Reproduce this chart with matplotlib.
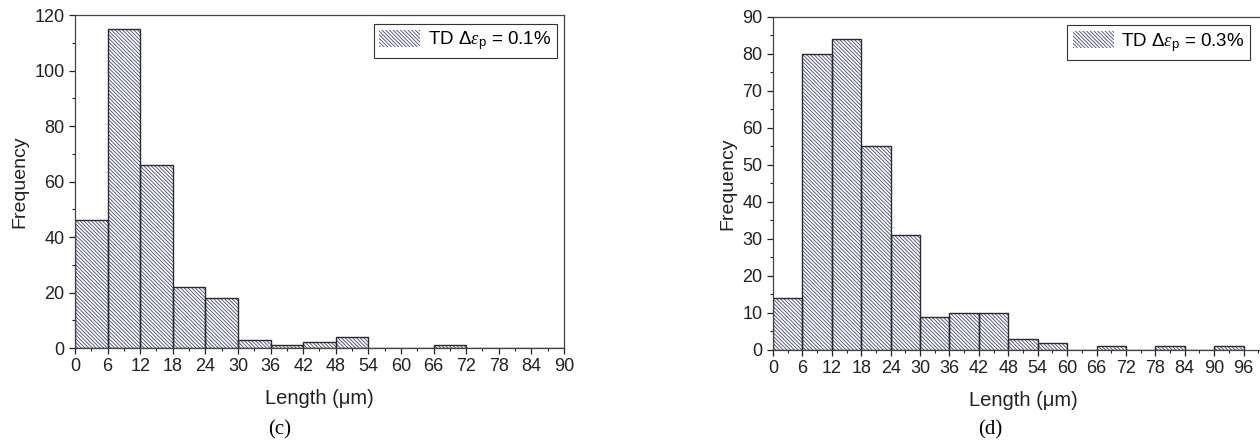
import matplotlib
matplotlib.use('Agg')
import matplotlib.pyplot as plt
import numpy as np

# crack length histograms, 6 um bins
bin_edges_c = list(range(0, 91, 6))
counts_c = [46, 115, 66, 22, 18, 3, 1, 2, 4, 0, 0, 1, 0, 0, 0]
label_c = r'TD $\Delta\varepsilon_{\rm p}$ = 0.1%'

bin_edges_d = list(range(0, 97, 6))
counts_d = [14, 80, 84, 55, 31, 9, 10, 10, 3, 2, 0, 1, 0, 1, 0, 1]
label_d = r'TD $\Delta\varepsilon_{\rm p}$ = 0.3%'

plt.rcParams['font.family'] = ['Liberation Sans', 'DejaVu Sans']
plt.rcParams['mathtext.fontset'] = 'custom'
plt.rcParams['mathtext.rm'] = 'Liberation Sans'
plt.rcParams['mathtext.it'] = 'Liberation Serif:italic'
plt.rcParams['hatch.linewidth'] = 0.6

HATCH_COL = '#45457a'
EDGE_COL = '#2a2a2a'
TEXT_COL = '#222222'


def draw_hist(ax, edges, counts, label):
    left = np.array(edges[:-1])
    width = np.diff(edges)
    # hatched fill first, then the plain outline on top
    ax.bar(left, counts, width=width, align='edge', color='white',
           edgecolor=HATCH_COL, hatch='\\' * 9, linewidth=0, label=label)
    ax.bar(left, counts, width=width, align='edge', fill=False,
           edgecolor=EDGE_COL, linewidth=1.0)
    ax.tick_params(axis='both', direction='out', labelsize=13,
                   colors=TEXT_COL, length=4, width=0.9)
    ax.tick_params(which='minor', direction='out', length=2, width=0.8, colors=TEXT_COL)
    ax.set_xlabel('Length (μm)', fontsize=14.5, color=TEXT_COL, labelpad=10)
    ax.set_ylabel('Frequency', fontsize=14, color=TEXT_COL, labelpad=4)
    for sp in ax.spines.values():
        sp.set_color('#444444')
        sp.set_linewidth(0.9)


fig = plt.figure(figsize=(12.6, 4.48), dpi=100)

ax1 = fig.add_axes([0.0595, 0.2232, 0.3881, 0.7433])
draw_hist(ax1, bin_edges_c, counts_c, label_c)
ax1.set_xlim(0, 90)
ax1.set_ylim(0, 120)
ax1.set_xticks(range(0, 91, 6))
ax1.set_xticks(range(3, 91, 6), minor=True)
ax1.set_yticks(range(0, 121, 20))
ax1.set_yticks(range(10, 121, 20), minor=True)
leg1 = ax1.legend(loc='upper right', bbox_to_anchor=(0.993, 0.985), fontsize=13.5,
                  fancybox=False, framealpha=1, edgecolor='#333333',
                  handlelength=2.2, handleheight=1.0, borderpad=0.3,
                  handletextpad=0.4, borderaxespad=0.2)
leg1.get_frame().set_linewidth(0.8)

ax2 = fig.add_axes([0.6135, 0.2188, 0.3968, 0.7440])
draw_hist(ax2, bin_edges_d, counts_d, label_d)
ax2.set_xlim(0, 102)
ax2.set_ylim(0, 90)
ax2.set_xticks(range(0, 97, 6))
ax2.set_xticks(range(3, 100, 6), minor=True)
ax2.set_yticks(range(0, 91, 10))
ax2.set_yticks(range(5, 91, 10), minor=True)
ax2.spines['right'].set_visible(False)
leg2 = ax2.legend(loc='upper right', bbox_to_anchor=(0.962, 0.985), fontsize=13.5,
                  fancybox=False, framealpha=1, edgecolor='#333333',
                  handlelength=2.2, handleheight=1.0, borderpad=0.3,
                  handletextpad=0.4, borderaxespad=0.2)
leg2.get_frame().set_linewidth(0.8)

fig.text(0.222, 0.03, '(c)', fontsize=15, family='Liberation Serif', ha='center')
fig.text(0.786, 0.03, '(d)', fontsize=15, family='Liberation Serif', ha='center')

fig.savefig('out.png', dpi=100)
